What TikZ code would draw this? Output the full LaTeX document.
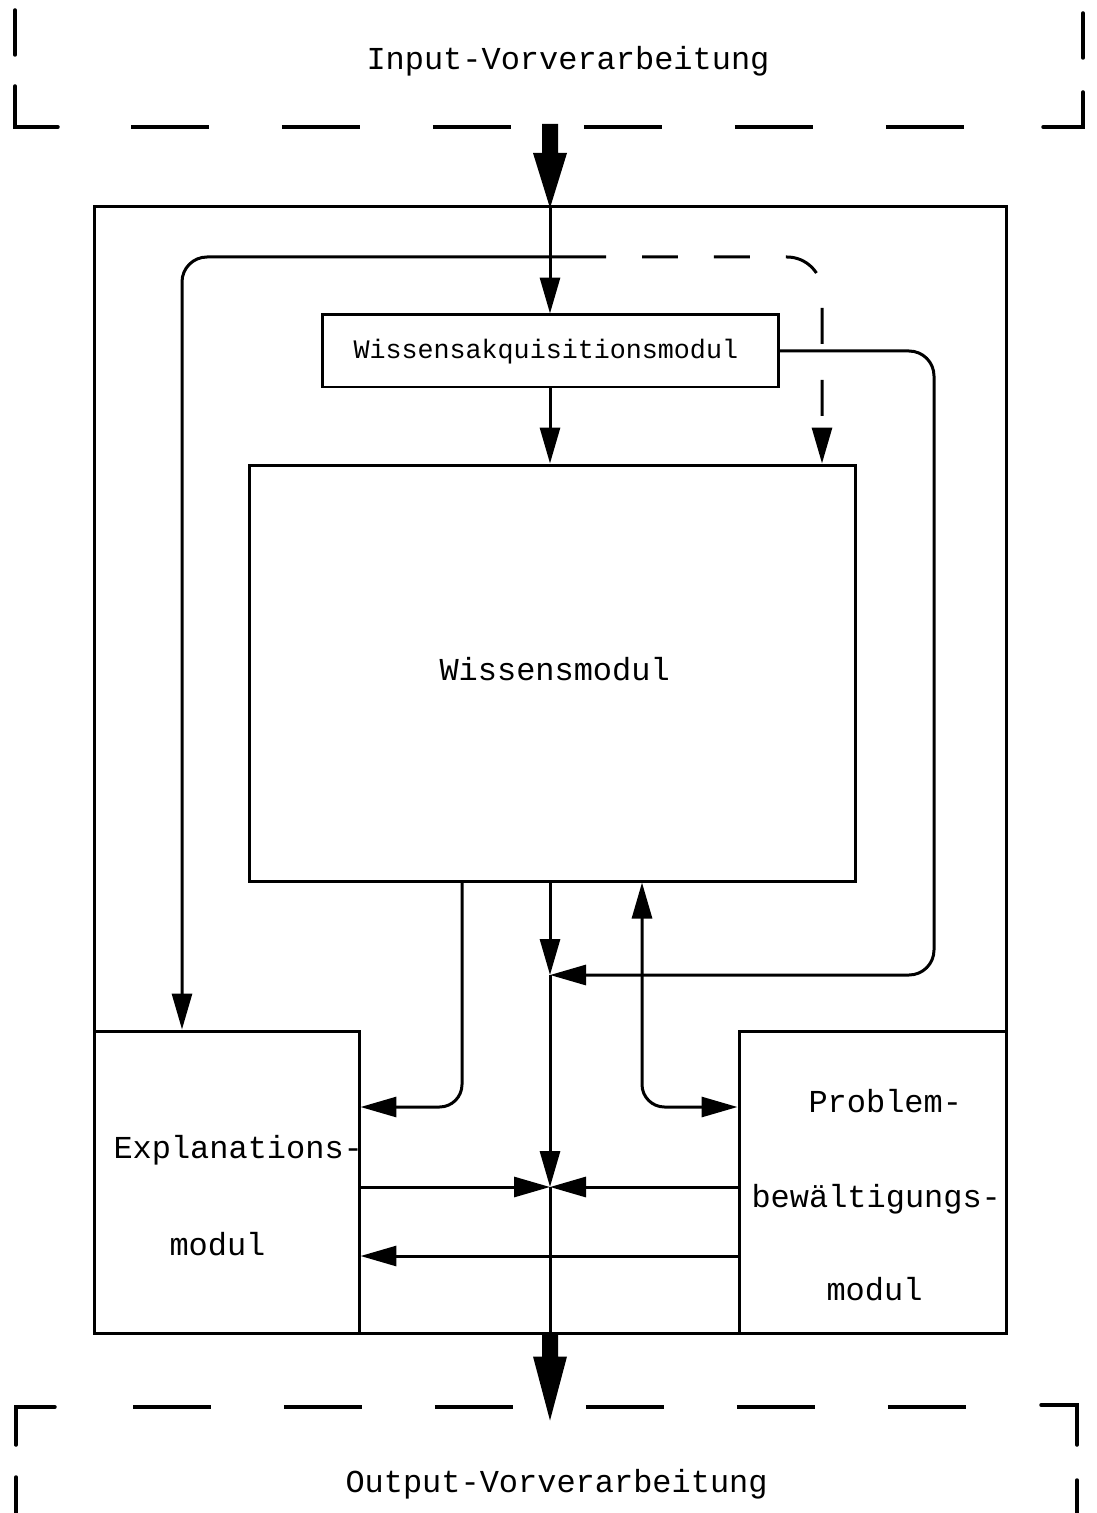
\documentclass[tikz,border=0pt]{standalone}
\usepackage{fontspec}
\setmonofont{Liberation Mono}
\usetikzlibrary{arrows.meta,fit,calc}
\begin{document}
\begin{tikzpicture}[x=0.02cm,y=-0.02cm,
  line width=0.06cm,
  box/.style={draw, inner sep=0pt, line width=0.06cm},
  lbl/.style={inner sep=0pt, anchor=base west,
    font=\ttfamily\fontsize{18.2pt}{20pt}\selectfont},
  smalllbl/.style={lbl, font=\ttfamily\fontsize{15.2pt}{17pt}\selectfont},
  arr/.style={-{Triangle[length=0.72cm,width=0.4cm]}},
  biarr/.style={{Triangle[length=0.72cm,width=0.4cm]}-{Triangle[length=0.72cm,width=0.4cm]}},
  frame/.style={line width=0.07cm, line cap=round},
  framedash/.style={line width=0.07cm, dash pattern=on 1.56cm off 1.46cm},
  fb/.style={dash pattern=on 0.72cm off 0.72cm, dash phase=0.72cm}
]
\useasboundingbox (0,0) rectangle (1096,1513);

% ---- input and output brackets
\draw[frame] (15,10) -- (15,55);
\draw[frame] (15,86) -- (15,127) -- (58,127);
\draw[framedash] (131,127) -- (964,127);
\draw[frame] (1043,127) -- (1083,127) -- (1083,92);
\draw[frame] (1083,13) -- (1083,58);
\node[lbl] (input) at (365,70) {Input-Vorverarbeitung};

\draw[frame] (55,1407) -- (16,1407) -- (16,1445);
\draw[frame] (16,1477) -- (16,1513);
\draw[framedash] (133,1407) -- (966,1407);
\draw[frame] (1041,1405) -- (1077,1405) -- (1077,1445);
\draw[frame] (1077,1480) -- (1077,1513);
\node[lbl] (output) at (344,1492) {Output-Vorverarbeitung};

% ---- modules
\node[box, fit={(94,207) (1006,1333)}] (sys) {};
\node[box, fit={(322,315) (778,387)}] (acq) {};
\node[box, fit={(249,465) (855,881)}] (wis) {};
\node[box, fit={(94,1031) (359,1333)}] (expl) {};
\node[box, fit={(739,1031) (1006,1333)}] (prob) {};

\node[smalllbl] (acqT) at (352,358) {Wissensakquisitionsmodul};
\node[lbl] (wisT) at (438,680) {Wissensmodul};
\node[lbl] (explA) at (112,1158) {Explanations-};
\node[lbl] (explB) at (168,1255) {modul};
\node[lbl] (probA) at (807,1112) {Problem-};
\node[lbl] (probB) at (750,1207) {bewältigungs-};
\node[lbl] (probC) at (825,1300) {modul};

% ---- helper points
\coordinate (inbar) at (550,124);
\coordinate (j1) at (550,975);
\coordinate (j2) at (550,1187);
\coordinate (split) at (606,257);
\coordinate (lc) at (182,257);
\coordinate (dc) at (822,257);
\coordinate (rc) at (934,975);
\coordinate (xl) at (462,1107);
\coordinate (xr) at (642,1107);
\coordinate (yb) at (550,1256);

% ---- heavy arrows in and out
\begin{scope}[shift={(inbar)}]
  \fill (-8,0) -- (8,0) -- (8,29) -- (17,29) -- (0,84) -- (-17,29) -- (-8,29) -- cycle;
\end{scope}
\begin{scope}[shift={(sys.south)}]
  \fill (-8,0) -- (8,0) -- (8,22) -- (17,22) -- (0,86) -- (-17,22) -- (-8,22) -- cycle;
\end{scope}

% ---- connectors
\draw[arr] (sys.north) -- (acq.north);
\draw[arr] (acq.south) -- (acq.south |- wis.north);
\draw[arr, rounded corners=0.5cm] (acq.east) -| (rc) -- (j1);
\draw[arr] (j1 |- wis.south) -- (j1);
\draw[arr] (j1) -- (j2);
\draw (j2) -- (j2 |- sys.south);
\draw[arr, rounded corners=0.45cm] (xl |- wis.south) |- (expl.east |- xl);
\draw[biarr, rounded corners=0.45cm] (xr |- wis.south) |- (prob.west |- xr);
\draw[arr] (expl.east |- j2) -- (j2);
\draw[arr] (prob.west |- j2) -- (j2);
\draw[arr] (prob.west |- yb) -- (expl.east |- yb);
\draw[arr, rounded corners=0.5cm] (split) -| (lc |- expl.north);
\draw[arr, fb, rounded corners=0.7cm] (split) -| (dc |- wis.north);
\end{tikzpicture}
\end{document}
